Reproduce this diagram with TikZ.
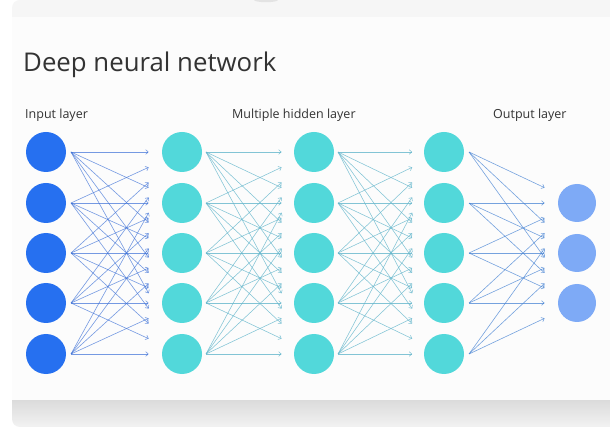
\documentclass[tikz,border=0pt]{standalone}
\usepackage{fontspec}
\setmainfont{Open Sans}
\usetikzlibrary{calc,arrows.meta}
\definecolor{inblue}{RGB}{38,112,240}
\definecolor{hidcyan}{RGB}{82,216,218}
\definecolor{outblue}{RGB}{126,170,246}
\definecolor{edgeblue}{RGB}{60,112,215}
\definecolor{edgecyan}{RGB}{100,182,204}
\definecolor{edgeout}{RGB}{72,132,212}
\definecolor{topgray}{RGB}{246,246,246}
\definecolor{panel}{RGB}{252,252,252}
\definecolor{txt}{RGB}{51,51,51}
\begin{document}
\begin{tikzpicture}[x=1pt,y=-1pt,
  neuron/.style={circle, minimum size=40pt, inner sep=0pt, draw=none},
  inneuron/.style={neuron, fill=inblue},
  hidneuron/.style={neuron, fill=hidcyan},
  outneuron/.style={neuron, minimum size=38pt, fill=outblue},
  tip/.style={-{Straight Barb[length=2.6pt,width=4.6pt]}},
  edgeA/.style={tip, draw=edgeblue, draw opacity=0.7, line width=0.6pt},
  edgeB/.style={tip, draw=edgecyan, draw opacity=0.8, line width=0.55pt},
  edgeC/.style={tip, draw=edgeout, draw opacity=0.75, line width=0.6pt},
  title/.style={anchor=base west, inner sep=0pt, text=txt, font=\fontsize{25.8}{30}\selectfont},
  layerlabel/.style={anchor=base west, inner sep=0pt, text=txt, font=\fontsize{12.5}{15}\selectfont}
]
\fill[white] (-5,-5) rectangle (625,435);
% background panels
\fill[topgray] (12,17) -- (12,8) arc[start angle=180, end angle=270, radius=8] -- (625,0) -- (625,17) -- cycle;
\fill[gray!22] (266,0) ellipse (12 and 2.2);
\fill[panel] (12,17) rectangle (625,400);
\shade[top color=black!14, bottom color=black!5] (12,400) -- (12,419) arc[start angle=180, end angle=90, radius=8] -- (625,427) -- (625,400) -- cycle;

% texts
\node[title] (ttl) at (23,72) {Deep neural network};
\node[layerlabel] (lin) at (25,119) {Input layer};
\node[layerlabel] (lhid) at (232,119) {Multiple hidden layer};
\node[layerlabel] (lout) at (493,119) {Output layer};

% neurons
\foreach \i/\y in {1/152,2/203,3/253,4/303,5/354}{
  \node[inneuron] (a\i) at (46,\y) {};
  \node[hidneuron] (b\i) at (182,\y) {};
  \node[hidneuron] (c\i) at (314,\y) {};
  \node[hidneuron] (d\i) at (444,\y) {};
}
\foreach \k/\y in {1/203,2/253,3/303}{
  \node[outneuron] (o\k) at (577,\y) {};
}

% connectors
\foreach \i in {1,...,5}{
  \foreach \j in {1,...,5}{
    \draw[edgeA] ($(a\i.center)+(25,0)$) -- ($($(a\i.center)+(25,0)$)!0.7!(b\j.center)$);
    \draw[edgeB] ($(b\i.center)+(24,0)$) -- ($($(b\i.center)+(24,0)$)!0.7!(c\j.center)$);
    \draw[edgeB] ($(c\i.center)+(24,0)$) -- ($($(c\i.center)+(24,0)$)!0.7!(d\j.center)$);
  }
  \foreach \k in {1,2,3}{
    \draw[edgeC] ($(d\i.center)+(25,0)$) -- ($($(d\i.center)+(25,0)$)!0.7!(o\k.center)$);
  }
}
\pgfresetboundingbox
\useasboundingbox (0,0) rectangle (610,427);
\end{tikzpicture}
\end{document}
